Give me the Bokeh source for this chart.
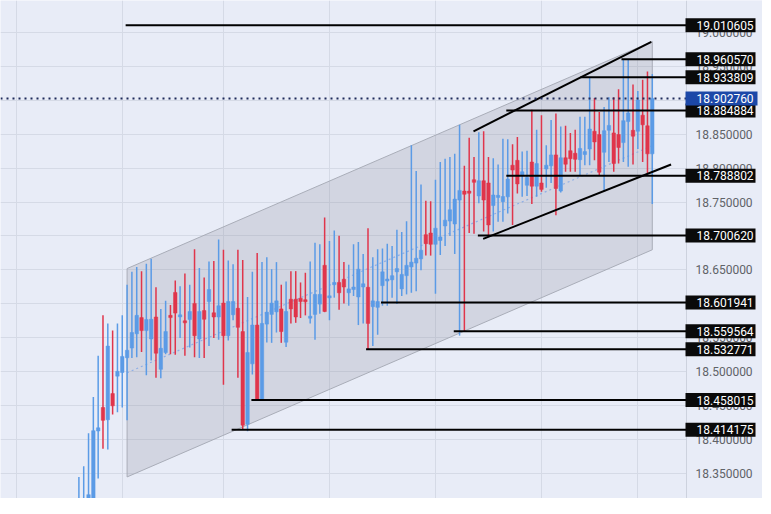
from bokeh.plotting import figure
from bokeh.models import FixedTicker, Range1d, Span, ColumnDataSource
from bokeh.core.properties import value
from bokeh.embed import file_html
from bokeh.resources import INLINE

# ---------------- data ----------------
opens = [18.270, 18.285, 18.290, 18.300, 18.4124, 18.4471, 18.4290, 18.4676, 18.4933, 18.4986,
         18.5204, 18.5347, 18.5557, 18.5796, 18.5604, 18.5481, 18.5805, 18.5033, 18.5281, 18.5829,
         18.6167, 18.5814, 18.5748, 18.5767, 18.6005, 18.5481, 18.5900, 18.6033, 18.5867, 18.5805,
         18.6010, 18.5529, 18.5838, 18.5933, 18.5590, 18.4224, 18.5114, 18.5686, 18.4585, 18.5700,
         18.5843, 18.5881, 18.5924, 18.5433, 18.6067, 18.6067, 18.6081, 18.6057, 18.5790, 18.5843,
         18.5995, 18.6567, 18.6090, 18.6281, 18.6314, 18.6361, 18.6162, 18.6210, 18.6100, 18.6247,
         18.6243, 18.5957, 18.5947, 18.6267, 18.6338, 18.6353, 18.6471, 18.6219, 18.6414, 18.6543,
         18.6600, 18.6662, 18.7019, 18.7043, 18.6876, 18.6933, 18.7147, 18.7219, 18.7176, 18.7528,
         18.7662, 18.7662, 18.7829, 18.7590, 18.7814, 18.7781, 18.7448, 18.7576, 18.7505, 18.7576,
         18.8043, 18.8114, 18.7900, 18.7747, 18.8090, 18.7733, 18.7781, 18.7986, 18.8033, 18.8195,
         18.7662, 18.8153, 18.8257, 18.8219, 18.8124, 18.8200, 18.8281, 18.8543, 18.8495, 18.8233,
         18.8557, 18.8519, 18.8495, 18.8376, 18.8686, 18.8557, 18.8543, 18.8781, 18.8624, 18.8210]
highs = [18.3447, 18.3604, 18.4090, 18.4624, 18.5233, 18.5829, 18.5710, 18.5604, 18.5710, 18.5829,
         18.6281, 18.6471, 18.6543, 18.6481, 18.6590, 18.6662, 18.6243, 18.5924, 18.6043, 18.5981,
         18.6343, 18.6257, 18.6447, 18.6281, 18.6805, 18.6529, 18.6386, 18.6624, 18.6629, 18.6948,
         18.6795, 18.6638, 18.6581, 18.6795, 18.6647, 18.6100, 18.6471, 18.6747, 18.6614, 18.6686,
         18.6510, 18.6614, 18.6281, 18.6329, 18.6481, 18.6481, 18.6314, 18.6457, 18.6624, 18.6900,
         18.6876, 18.7271, 18.6924, 18.7081, 18.7004, 18.6614, 18.6576, 18.6876, 18.6910, 18.6733,
         18.7114, 18.6686, 18.6805, 18.6814, 18.6886, 18.6853, 18.7090, 18.7057, 18.7218, 18.8338,
         18.7957, 18.7757, 18.7519, 18.7510, 18.7829, 18.8090, 18.8138, 18.8162, 18.8210, 18.8638,
         18.8033, 18.8447, 18.8162, 18.8529, 18.8543, 18.8162, 18.8147, 18.8053, 18.8433, 18.8424,
         18.8353, 18.8457, 18.8243, 18.8257, 18.8861, 18.8567, 18.8781, 18.8338, 18.8710, 18.8804,
         18.8614, 18.8624, 18.8519, 18.8567, 18.8757, 18.8757, 18.9338, 18.9033, 18.8829, 18.8900,
         18.9043, 18.9043, 18.9162, 18.9606, 18.9600, 18.9233, 18.9138, 18.9304, 18.9424, 18.9386]
lows = [18.260, 18.270, 18.280, 18.290, 18.3424, 18.3862, 18.3853, 18.4367, 18.4400, 18.4471,
        18.4281, 18.5200, 18.5210, 18.5290, 18.4947, 18.5162, 18.4910, 18.4900, 18.5257, 18.5257,
        18.5248, 18.5495, 18.5233, 18.5355, 18.5210, 18.5200, 18.5200, 18.5376, 18.5495, 18.5471,
        18.4805, 18.5457, 18.5757, 18.4910, 18.4142, 18.4120, 18.4957, 18.4580, 18.4582, 18.5429,
        18.5424, 18.5576, 18.5424, 18.5362, 18.5710, 18.5719, 18.5790, 18.5829, 18.5710, 18.5471,
        18.5852, 18.5876, 18.5757, 18.6090, 18.5910, 18.6005, 18.5971, 18.6114, 18.5686, 18.5710,
        18.5328, 18.5376, 18.5543, 18.5971, 18.5971, 18.6090, 18.5995, 18.6114, 18.6138, 18.6162,
        18.6186, 18.6495, 18.6710, 18.6710, 18.6148, 18.6719, 18.6853, 18.7000, 18.6733, 18.5530,
        18.5596, 18.7043, 18.7033, 18.7481, 18.7067, 18.7006, 18.7067, 18.7210, 18.7210, 18.7329,
        18.7162, 18.7624, 18.7576, 18.7590, 18.7471, 18.7576, 18.7650, 18.7710, 18.7781, 18.7304,
        18.7640, 18.7947, 18.7947, 18.7947, 18.7900, 18.8043, 18.8043, 18.8114, 18.7900, 18.7662,
        18.8090, 18.7947, 18.8067, 18.8090, 18.8019, 18.8053, 18.8281, 18.8090, 18.7924, 18.7471]
closes = [18.305, 18.308, 18.3186, 18.4129, 18.4171, 18.4281, 18.5376, 18.4495, 18.5004, 18.5224,
          18.5314, 18.5576, 18.5829, 18.5604, 18.5767, 18.5771, 18.5271, 18.5343, 18.5590, 18.5796,
          18.5862, 18.5829, 18.5719, 18.5886, 18.5529, 18.5886, 18.5771, 18.6210, 18.5805, 18.5971,
          18.5529, 18.6033, 18.6033, 18.5652, 18.4210, 18.5281, 18.5686, 18.4590, 18.5710, 18.5876,
          18.6010, 18.6043, 18.5590, 18.5886, 18.5924, 18.5805, 18.6033, 18.6033, 18.5814, 18.6138,
          18.6138, 18.5886, 18.6114, 18.6314, 18.6162, 18.6247, 18.6219, 18.6247, 18.6510, 18.6295,
          18.5710, 18.6043, 18.6033, 18.6471, 18.6362, 18.6414, 18.6519, 18.6433, 18.6567, 18.6614,
          18.6671, 18.6790, 18.6886, 18.6876, 18.7114, 18.6986, 18.7233, 18.7386, 18.7543, 18.7671,
          18.7614, 18.7629, 18.7790, 18.7814, 18.7529, 18.7162, 18.7604, 18.7590, 18.7581, 18.7838,
          18.7971, 18.7767, 18.7947, 18.7861, 18.7733, 18.8067, 18.7686, 18.8043, 18.8195, 18.7700,
          18.8153, 18.8057, 18.8138, 18.8129, 18.8290, 18.8243, 18.8576, 18.8386, 18.7938, 18.8552,
          18.8629, 18.8067, 18.8304, 18.8700, 18.8814, 18.8471, 18.9004, 18.8638, 18.8210, 18.9028]

level_values = [19.010605, 18.960570, 18.933809, 18.884884, 18.788802, 18.700620,
                18.601941, 18.559564, 18.532771, 18.458015, 18.414175]
level_start = [9.7, 112.6, 104.1, 88.7, 88.7, 82.8, 62.7, 77.8, 59.6, 35.8, 31.7]
last_price = 18.902760

# regression channel (start/end bar, upper/middle/lower values)
channel_x = [10, 119]
channel_upper = [18.6519, 18.9867]
channel_mid = [18.4983, 18.8331]
channel_lower = [18.3447, 18.6796]

# drawn trend lines
upper_trend_x = [81.9, 118.8]
upper_trend_y = [18.8543, 18.9861]
lower_trend_x = [83.9, 122.9]
lower_trend_y = [18.6957, 18.8053]

y_ticks = [18.35, 18.40, 18.45, 18.50, 18.55, 18.60, 18.65, 18.70, 18.75, 18.80,
           18.85, 18.90, 18.95, 19.00]
month_ticks = [-13, 9, 30, 52, 74, 96, 116]

# ---------------- styling ----------------
BG = "#E8ECF7"
UP = "#5B9BE6"
DOWN = "#E0354B"
W, H = 762, 498
AXIS_W = 76                      # price-scale strip on the right, in pixels
X_START, X_PLOT_END = -16.27, 126.1
Y_LOW, Y_HIGH = 18.3129, 19.0471
ppu = (W - AXIS_W) / (X_PLOT_END - X_START)          # pixels per bar
X_END = X_PLOT_END + AXIS_W / ppu

p = figure(width=W, height=H, x_range=Range1d(X_START, X_END), y_range=Range1d(Y_LOW, Y_HIGH),
           output_backend="svg", toolbar_location=None,
           background_fill_color=BG, border_fill_color=BG,
           min_border_left=0, min_border_top=0, min_border_bottom=0, min_border_right=0)
p.outline_line_color = None
p.xaxis.visible = False
p.yaxis.visible = False
p.xgrid[0].ticker = FixedTicker(ticks=month_ticks)
p.ygrid[0].ticker = FixedTicker(ticks=y_ticks)
p.xgrid.grid_line_color = "#D5DAE6"
p.ygrid.grid_line_color = "#D5DAE6"

# channel
p.patch([channel_x[0], channel_x[1], channel_x[1], channel_x[0]],
        [channel_upper[0], channel_upper[1], channel_lower[1], channel_lower[0]],
        fill_color="#7f7f8a", fill_alpha=0.2, line_color="#A9ADB8", line_width=1)
p.line(channel_x, channel_mid, line_color="#8DAEE6", line_width=1.2, line_dash="2 3")

# candles
n = len(opens)
xs = list(range(n))
colors = [UP if c >= o else DOWN for o, c in zip(opens, closes)]
tops, bots = [], []
for o, c in zip(opens, closes):
    t, b = max(o, c), min(o, c)
    if t - b < 0.003:
        m = (t + b) / 2
        t, b = m + 0.0015, m - 0.0015
    tops.append(t)
    bots.append(b)
src = ColumnDataSource(dict(x=xs, h=highs, l=lows, t=tops, b=bots, c=colors))
p.segment(x0="x", y0="l", x1="x", y1="h", color="c", line_width=1.5, source=src)
p.vbar(x="x", top="t", bottom="b", width=0.72, fill_color="c", line_color="c", line_width=0.5, source=src)

# level lines
p.segment(x0=level_start, y0=level_values, x1=[X_PLOT_END] * len(level_values), y1=level_values,
          line_color="black", line_width=2)
# trend lines
p.line(upper_trend_x, upper_trend_y, line_color="black", line_width=2)
p.line(lower_trend_x, lower_trend_y, line_color="black", line_width=2)

# last price line
p.segment(x0=[X_START], y0=[last_price], x1=[X_PLOT_END], y1=[last_price],
          line_color="#1E2A5A", line_width=2, line_dash="2 4")

# ---- price scale strip (drawn inside the canvas) ----
axis_mid = (X_PLOT_END + X_END) / 2
p.rect(x=[axis_mid], y=[(Y_LOW + Y_HIGH) / 2], width=[X_END - X_PLOT_END], height=[Y_HIGH - Y_LOW],
       fill_color=BG, line_color=None)
p.segment(x0=[X_PLOT_END], y0=[Y_LOW], x1=[X_PLOT_END], y1=[Y_HIGH], line_color="#CDD2DE", line_width=1)
p.text(x=[X_PLOT_END] * len(y_ticks), y=y_ticks, text=[f"{t:.6f}" for t in y_ticks],
       x_offset=9, text_font=value("Roboto"), text_font_size="12px", text_color="#5f6368",
       text_baseline="middle", text_align="left")

# price tags
box_x = X_PLOT_END + 34 / ppu
p.rect(x=[box_x] * len(level_values), y=level_values, width=70, height=14,
       width_units="screen", height_units="screen", fill_color="#0a0a0a", line_color=None)
p.text(x=[X_PLOT_END] * len(level_values), y=level_values, text=[f"{v:.6f}" for v in level_values],
       x_offset=10, text_font=value("Roboto"), text_font_size="12px", text_color="white",
       text_baseline="middle", text_align="left")
p.rect(x=[X_PLOT_END + 35 / ppu], y=[last_price], width=72, height=14,
       width_units="screen", height_units="screen", fill_color="#1C48A8", line_color=None)
p.text(x=[X_PLOT_END], y=[last_price], text=[f"{last_price:.6f}"],
       x_offset=10, text_font=value("Roboto"), text_font_size="12px", text_color="white",
       text_baseline="middle", text_align="left")

open("out.html", "w").write(file_html(p, INLINE))
